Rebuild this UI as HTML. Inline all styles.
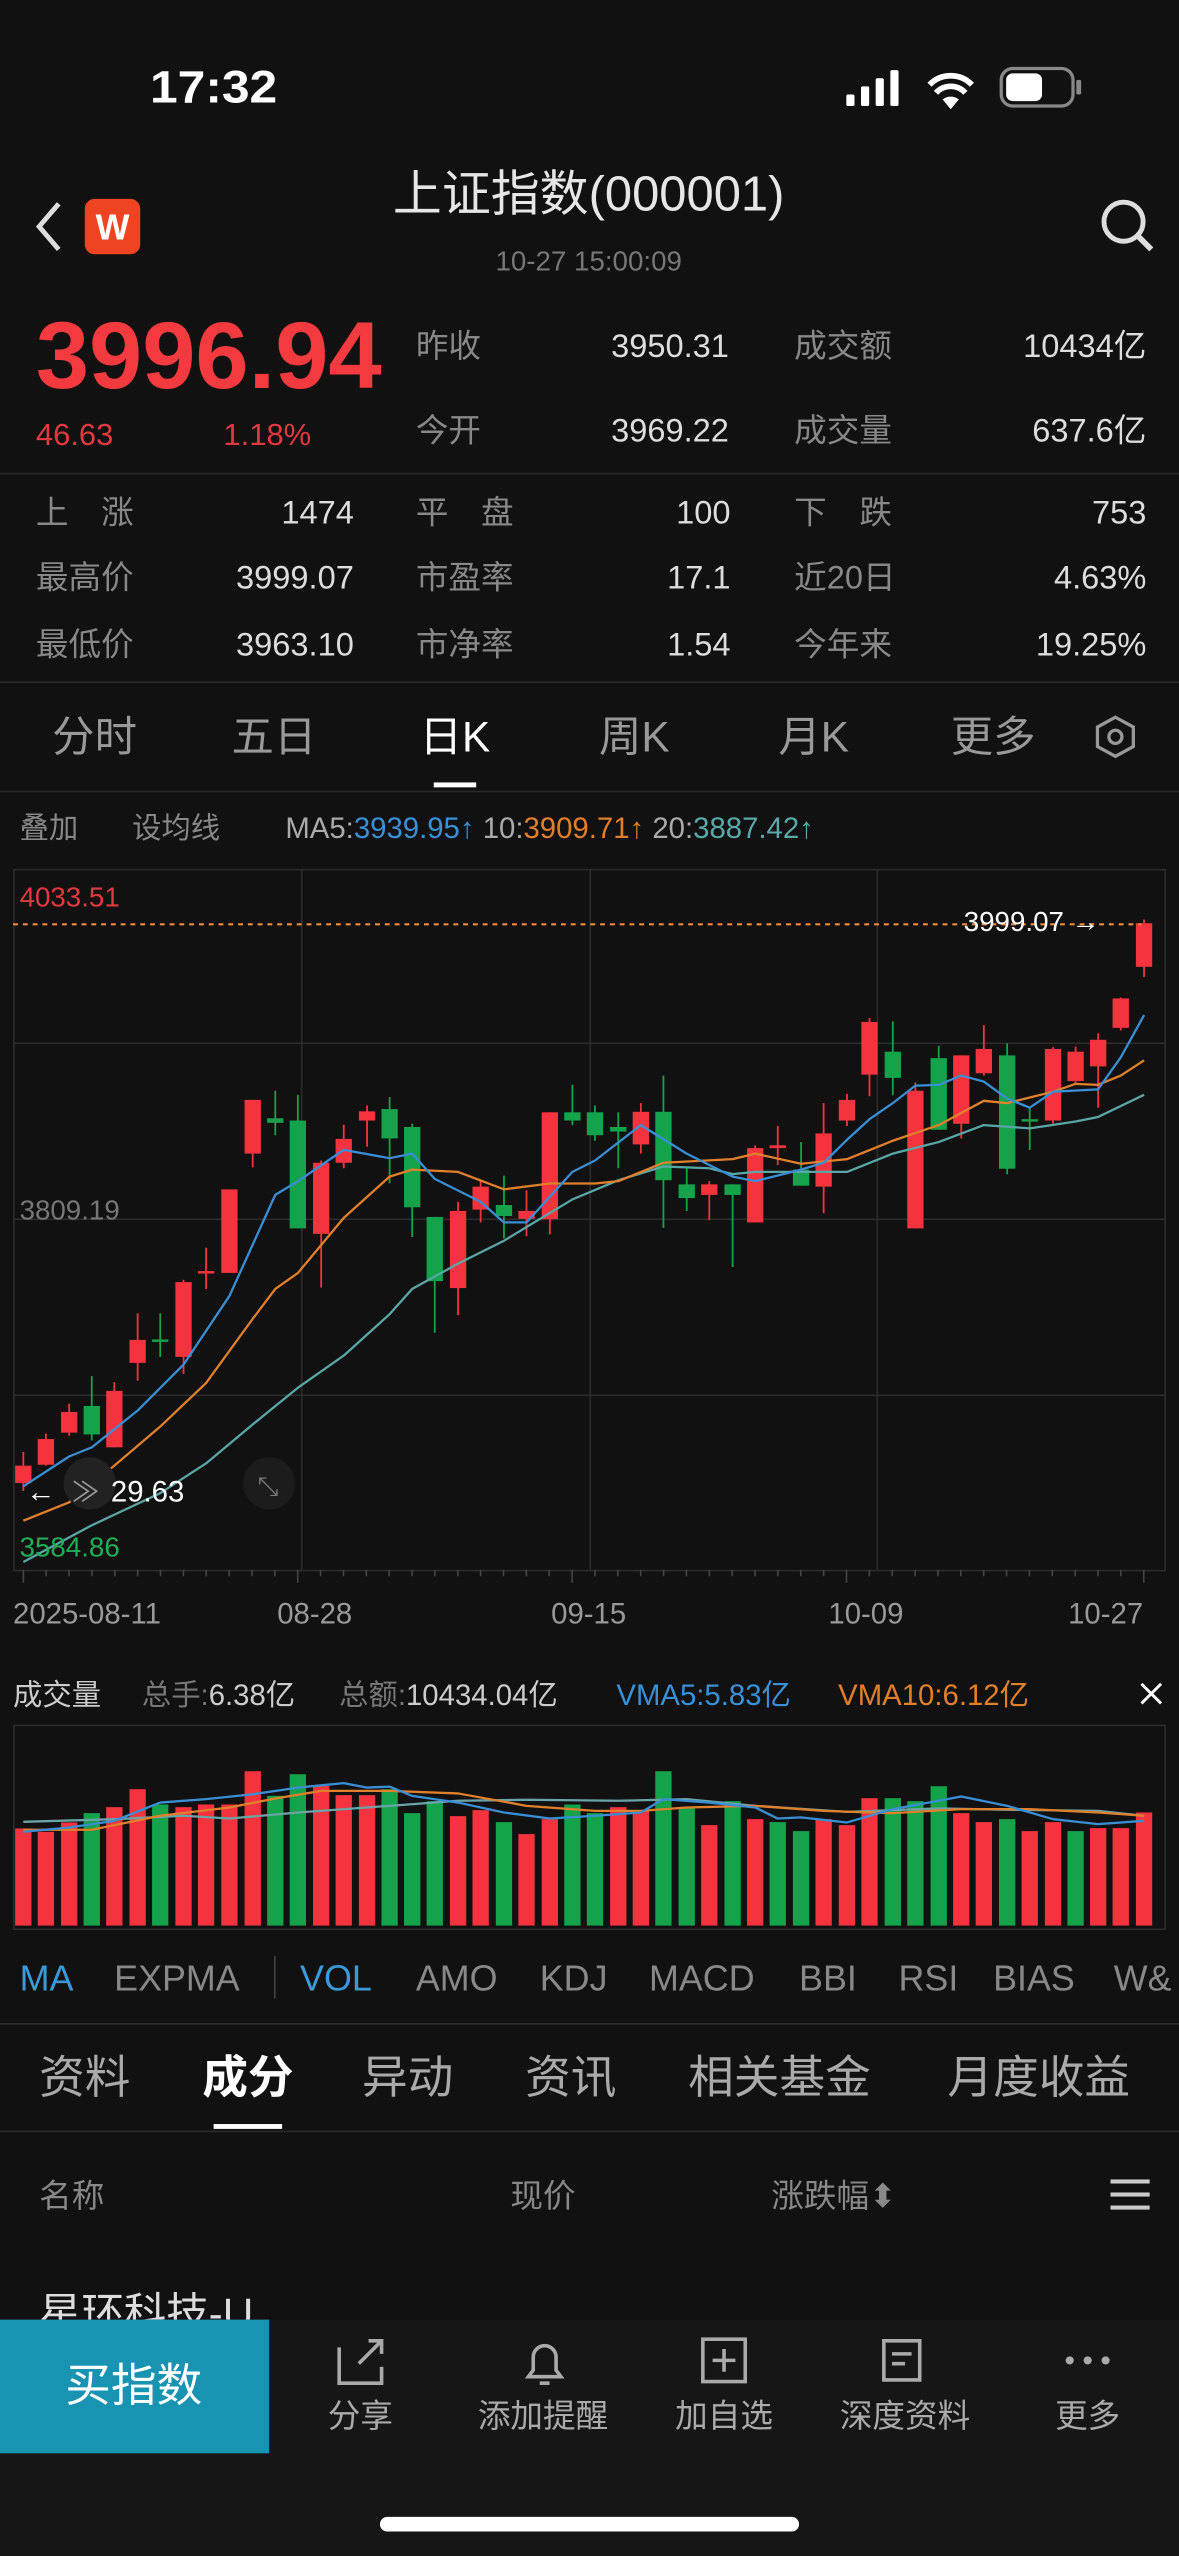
<!DOCTYPE html>
<html><head><meta charset="utf-8">
<style>
html,body{margin:0;padding:0;background:#111111;}
svg{display:block;}
text{font-family:"Liberation Sans","Noto Sans CJK SC",sans-serif;}
</style></head>
<body>
<svg id="s" xmlns="http://www.w3.org/2000/svg" width="1179" height="2556" viewBox="0 0 723 1568" preserveAspectRatio="none">
<rect x="0" y="0" width="723" height="1568" fill="#111111"/>
<!-- status bar -->
<text x="92" y="63" font-size="28" fill="#fff" font-weight="bold" textLength="78" lengthAdjust="spacingAndGlyphs">17:32</text>
<g fill="#fff">
<rect x="519" y="58" width="5" height="7" rx="1"/><rect x="528" y="53" width="5" height="12" rx="1"/><rect x="537" y="48" width="5" height="17" rx="1"/><rect x="546" y="43" width="5" height="22" rx="1"/>
</g>
<path d="M570 52 a18 18 0 0 1 26 0 M574 57 a12 12 0 0 1 18 0" stroke="#fff" stroke-width="3.5" fill="none"/>
<path d="M578 61 l5 6 l5 -6 a8 8 0 0 0 -10 0z" fill="#fff"/>
<rect x="614" y="42" width="44" height="23" rx="7" fill="none" stroke="#888" stroke-width="2"/>
<rect x="617" y="45" width="22" height="17" rx="4" fill="#fff"/>
<rect x="660" y="49" width="3" height="9" rx="1" fill="#888"/>
<!-- title -->
<path d="M36 125 L24 139 L36 153" stroke="#ddd" stroke-width="3" fill="none"/>
<rect x="52" y="122" width="34" height="34" rx="6" fill="#ee4422"/>
<text x="69" y="147" font-size="22" fill="#fff" text-anchor="middle" font-weight="bold">W</text>
<text x="361" y="129" font-size="30" fill="#e6e6e6" text-anchor="middle">上证指数(000001)</text>
<text x="361" y="166" font-size="17" fill="#777" text-anchor="middle">10-27 15:00:09</text>
<circle cx="689" cy="136" r="12" stroke="#ddd" stroke-width="3" fill="none"/>
<path d="M698 145 L706 153" stroke="#ddd" stroke-width="3.5"/>
<!-- price -->
<text x="22" y="238" font-size="58" fill="#f23a3f" font-weight="bold" textLength="212" lengthAdjust="spacingAndGlyphs">3996.94</text>
<text x="22" y="273" font-size="19" fill="#e0393f">46.63</text>
<text x="137" y="273" font-size="19" fill="#e0393f">1.18%</text>
<g font-size="20">
<text x="255" y="219" fill="#888">昨收</text><text x="447" y="219" fill="#ddd" text-anchor="end">3950.31</text>
<text x="487" y="219" fill="#888">成交额</text><text x="703" y="219" fill="#ddd" text-anchor="end">10434亿</text>
<text x="255" y="271" fill="#888">今开</text><text x="447" y="271" fill="#ddd" text-anchor="end">3969.22</text>
<text x="487" y="271" fill="#888">成交量</text><text x="703" y="271" fill="#ddd" text-anchor="end">637.6亿</text>
</g>
<rect x="0" y="290" width="723" height="1" fill="#2a2a2a"/>
<g font-size="20">
<text x="22" y="321" fill="#888">上　涨</text><text x="217" y="321" fill="#ddd" text-anchor="end">1474</text>
<text x="255" y="321" fill="#888">平　盘</text><text x="448" y="321" fill="#ddd" text-anchor="end">100</text>
<text x="487" y="321" fill="#888">下　跌</text><text x="703" y="321" fill="#ddd" text-anchor="end">753</text>
<text x="22" y="361" fill="#888">最高价</text><text x="217" y="361" fill="#ddd" text-anchor="end">3999.07</text>
<text x="255" y="361" fill="#888">市盈率</text><text x="448" y="361" fill="#ddd" text-anchor="end">17.1</text>
<text x="487" y="361" fill="#888">近20日</text><text x="703" y="361" fill="#ddd" text-anchor="end">4.63%</text>
<text x="22" y="402" fill="#888">最低价</text><text x="217" y="402" fill="#ddd" text-anchor="end">3963.10</text>
<text x="255" y="402" fill="#888">市净率</text><text x="448" y="402" fill="#ddd" text-anchor="end">1.54</text>
<text x="487" y="402" fill="#888">今年来</text><text x="703" y="402" fill="#ddd" text-anchor="end">19.25%</text>
</g>
<rect x="0" y="418" width="723" height="1" fill="#2a2a2a"/>
<!-- period tabs -->
<g font-size="26" text-anchor="middle" fill="#999">
<text x="58" y="461">分时</text><text x="168" y="461">五日</text>
<text x="279" y="461" fill="#fff">日K</text>
<text x="389" y="461">周K</text><text x="499" y="461">月K</text><text x="609" y="461">更多</text>
</g>
<rect x="266" y="480" width="26" height="3" fill="#fff"/>
<polygon points="684,440 695,446 695,458 684,464 673,458 673,446" fill="none" stroke="#999" stroke-width="2"/>
<circle cx="684" cy="452" r="4" fill="none" stroke="#999" stroke-width="2"/>
<rect x="0" y="485" width="723" height="1" fill="#2a2a2a"/>
<g font-size="18">
<text x="12" y="514" fill="#888">叠加</text><text x="81" y="514" fill="#888">设均线</text>
<text x="175" y="514" fill="#aaa">MA5:<tspan fill="#3a90d6">3939.95↑</tspan> <tspan fill="#aaa">10:</tspan><tspan fill="#e0802c">3909.71↑</tspan> <tspan fill="#aaa">20:</tspan><tspan fill="#5aa8a8">3887.42↑</tspan></text>
</g>
<!-- chart frame -->
<rect x="8.5" y="533.5" width="706" height="430" fill="none" stroke="#2c2c2c" stroke-width="1"/>
<g stroke="#2c2c2c" stroke-width="1">
<line x1="185" y1="533" x2="185" y2="963"/><line x1="362" y1="533" x2="362" y2="963"/><line x1="538" y1="533" x2="538" y2="963"/>
<line x1="8" y1="640" x2="715" y2="640"/><line x1="8" y1="748" x2="715" y2="748"/><line x1="8" y1="856" x2="715" y2="856"/>
</g>
<g id="chart"></g>
<line x1="8" y1="567" x2="700" y2="567" stroke="#f08a3c" stroke-width="1.3" stroke-dasharray="3,3"/>
<text x="12" y="556" font-size="17" fill="#e0393f">4033.51</text>
<text x="12" y="748" font-size="17" fill="#777">3809.19</text>
<text x="12" y="955" font-size="17" fill="#1fae55">3584.86</text>
<text x="591" y="571" font-size="17" fill="#fff">3999.07 →</text>
<circle cx="55" cy="910" r="16" fill="#222"/>
<circle cx="165" cy="910" r="16" fill="#1c1c1c"/>
<text x="158" y="917" font-size="16" fill="#777">⤡</text>
<text x="16" y="921" font-size="18" fill="#fff">←</text>
<text x="44" y="921" font-size="17" fill="#999">≫</text>
<text x="68" y="921" font-size="18" fill="#fff">29.63</text>
<!-- x axis -->
<g id="ticks" stroke="#444" stroke-width="1"></g>
<g font-size="18" fill="#999">
<text x="8" y="996">2025-08-11</text><text x="170" y="996">08-28</text><text x="338" y="996">09-15</text><text x="508" y="996">10-09</text><text x="655" y="996">10-27</text>
</g>
<!-- volume header -->
<g font-size="18">
<text x="8" y="1046" fill="#ccc">成交量</text>
<text x="87" y="1046" fill="#777">总手:<tspan fill="#ccc">6.38亿</tspan></text>
<text x="208" y="1046" fill="#777">总额:<tspan fill="#ccc">10434.04亿</tspan></text>
<text x="378" y="1046" fill="#3a90d6">VMA5:5.83亿</text>
<text x="514" y="1046" fill="#e0802c">VMA10:6.12亿</text>
</g>
<path d="M700 1033 L712 1045 M712 1033 L700 1045" stroke="#fff" stroke-width="1.8"/>
<rect x="8.5" y="1058.5" width="706" height="125" fill="none" stroke="#2c2c2c" stroke-width="1"/>
<g id="vol"></g>
<!-- indicator row -->
<g font-size="22" fill="#888">
<text x="12" y="1221" fill="#3a9ad8">MA</text><text x="70" y="1221">EXPMA</text>
<rect x="168" y="1200" width="1" height="26" fill="#444"/>
<text x="184" y="1221" fill="#3a9ad8">VOL</text><text x="255" y="1221">AMO</text><text x="331" y="1221">KDJ</text><text x="398" y="1221">MACD</text><text x="490" y="1221">BBI</text><text x="551" y="1221">RSI</text><text x="609" y="1221">BIAS</text><text x="683" y="1221">W&amp;</text>
</g>
<rect x="0" y="1241" width="723" height="1" fill="#2a2a2a"/>
<g font-size="28" fill="#aaa">
<text x="24" y="1284">资料</text>
<text x="124" y="1284" fill="#fff" font-weight="bold">成分</text>
<text x="222" y="1284">异动</text><text x="322" y="1284">资讯</text><text x="422" y="1284">相关基金</text><text x="581" y="1284">月度收益</text>
</g>
<rect x="131" y="1303" width="42" height="3" fill="#fff"/>
<rect x="0" y="1307" width="723" height="1" fill="#2a2a2a"/>
<g font-size="20" fill="#888">
<text x="24" y="1354">名称</text><text x="313" y="1354">现价</text><text x="473" y="1354">涨跌幅⬍</text>
</g>
<g fill="#ccc"><rect x="681" y="1337" width="24" height="2.5"/><rect x="681" y="1345" width="24" height="2.5"/><rect x="681" y="1353" width="24" height="2.5"/></g>
<text x="24" y="1428" font-size="26" fill="#ddd">星环科技-U</text>
<!-- bottom bar -->
<rect x="0" y="1423" width="723" height="145" fill="#161616"/>
<rect x="0" y="1423" width="165" height="82" fill="#1993b2"/>
<text x="82" y="1473" font-size="28" fill="#fff" text-anchor="middle">买指数</text>
<g stroke="#aaa" stroke-width="2.2" fill="none">
<path d="M208 1440 v22 h26 v-10 M220 1450 l14 -14 M226 1436 h8 v8"/>
<path d="M324 1458 h20 l-3 -4 v-8 a7 7 0 0 0 -14 0 v8 z M331 1462 h6"/>
<rect x="431" y="1435" width="26" height="26"/><path d="M444 1441 v14 M437 1448 h14"/>
<path d="M542 1436 h22 v24 h-22 z M547 1444 h12 M547 1450 h8"/>
</g>
<g fill="#aaa"><circle cx="656" cy="1448" r="2.5"/><circle cx="667" cy="1448" r="2.5"/><circle cx="678" cy="1448" r="2.5"/></g>
<g font-size="20" fill="#aaa" text-anchor="middle">
<text x="221" y="1489">分享</text><text x="333" y="1489">添加提醒</text><text x="444" y="1489">加自选</text><text x="555" y="1489">深度资料</text><text x="667" y="1489">更多</text>
</g>
<rect x="233" y="1544" width="257" height="9" rx="4.5" fill="#fff"/>
</svg>
<script>
var NS="http://www.w3.org/2000/svg";
function el(p,t,a){var e=document.createElementNS(NS,t);for(var k in a)e.setAttribute(k,a[k]);p.appendChild(e);return e;}
var R="#f5333f",G="#14a24a";
var X=function(z){return z/2.168;}, Y=function(z){return 527.5+z/3.552;};
var C=[[31,'R',1320,1358,1290,1375],[61,'R',1262,1318,1250,1320],[92,'R',1203,1248,1185,1255],[122,'G',1190,1252,1125,1265],[152,'R',1157,1280,1138,1280],[183,'R',1046,1096,988,1135],[213,'G',1045,1050,988,1083],[244,'R',920,1083,915,1120],[274,'R',896,900,845,935],[305,'R',718,900,718,900],[336,'R',523,640,523,670],[366,'G',563,573,503,600],[396,'G',568,803,512,803],[427,'R',660,815,655,932],[457,'R',608,660,577,672],[488,'R',548,568,535,625],[518,'G',543,607,517,705],[548,'G',582,757,575,822],[578,'G',778,918,778,1030],[609,'R',765,933,745,992],[639,'R',712,762,700,790],[670,'G',752,776,688,825],[700,'R',765,782,720,820],[731,'R',550,783,550,816],[761,'G',550,568,490,578],[791,'G',550,600,535,612],[822,'G',582,592,550,672],[852,'R',549,620,530,640],[882,'G',549,698,470,802],[913,'G',707,737,670,765],[943,'R',707,730,700,785],[974,'G',707,730,707,887],[1004,'R',628,790,622,790],[1034,'R',622,628,580,665],[1065,'G',675,710,615,710],[1095,'R',596,712,530,770],[1126,'R',523,568,510,580],[1156,'R',353,468,345,515],[1187,'G',418,475,352,513],[1217,'R',503,803,485,803],[1248,'G',432,588,405,588],[1278,'R',426,575,426,607],[1308,'R',412,465,360,470],[1339,'G',426,673,400,685],[1369,'G',565,569,540,632],[1400,'R',412,568,408,575],[1430,'R',418,482,407,490],[1460,'R',392,450,378,540],[1490,'R',302,366,300,372],[1521,'R',138,233,130,255]];
var ch=document.getElementById('chart');
C.forEach(function(c){var col=c[1]=='R'?R:G;var x=X(c[0]);
el(ch,'line',{x1:x,x2:x,y1:Y(c[4]),y2:Y(c[5]),stroke:col,'stroke-width':1.1});
var h=Y(c[3])-Y(c[2]);if(h<1.5)h=1.5;
el(ch,'rect',{x:x-5,y:Y(c[2]),width:10,height:h,fill:col});});
function pl(pts,col,Yf,p){var s=pts.map(function(q){return X(q[0]).toFixed(1)+','+Yf(q[1]).toFixed(1);}).join(' ');el(p,'polyline',{points:s,fill:'none',stroke:col,'stroke-width':1.4,'stroke-linejoin':'round'});}
pl([[31,1530],[122,1450],[213,1380],[274,1315],[336,1230],[396,1150],[457,1080],[518,990],[548,935],[609,880],[670,830],[700,800],[761,740],[822,698],[882,668],[943,672],[974,685],[1004,680],[1065,680],[1126,680],[1187,640],[1248,615],[1308,578],[1369,585],[1430,570],[1460,560],[1521,512]],'#5aa6a6',Y,ch);
pl([[31,1440],[92,1400],[152,1320],[213,1235],[274,1140],[336,1000],[366,935],[396,900],[457,780],[518,690],[548,675],[609,680],[670,718],[731,705],[791,705],[822,700],[882,660],[974,652],[1004,640],[1065,662],[1126,652],[1187,612],[1248,578],[1308,525],[1339,530],[1400,505],[1430,488],[1460,490],[1490,470],[1521,437]],'#e0802c',Y,ch);
pl([[31,1365],[92,1300],[122,1280],[183,1200],[244,1100],[305,950],[366,730],[396,700],[457,632],[518,650],[548,640],[578,695],[639,745],[670,790],[700,790],[761,680],[791,655],[852,578],[913,640],[974,690],[1004,700],[1065,675],[1095,660],[1126,610],[1156,565],[1187,530],[1217,492],[1248,490],[1278,470],[1308,483],[1339,520],[1369,540],[1400,505],[1460,500],[1490,430],[1521,338]],'#3a8ed4',Y,ch);
var tk=document.getElementById('ticks');
for(var i=0;i<50;i++){var x=X(31+i*30.4);var big=(i==0||i==12||i==24||i==36||i==49);el(tk,'line',{x1:x,x2:x,y1:963,y2:big?971:967});}
var V=[[31,'R',508],[61,'R',518],[92,'R',490],[122,'G',462],[152,'R',444],[183,'R',390],[213,'G',436],[244,'R',444],[274,'R',436],[305,'R',436],[336,'R',336],[366,'G',410],[396,'G',345],[427,'R',380],[457,'R',408],[488,'R',408],[518,'G',390],[548,'G',462],[578,'G',426],[609,'R',471],[639,'R',453],[670,'G',489],[700,'R',525],[731,'R',480],[761,'G',436],[791,'G',462],[822,'R',444],[852,'R',453],[882,'G',336],[913,'G',444],[943,'R',498],[974,'G',426],[1004,'R',480],[1034,'G',489],[1065,'G',516],[1095,'R',480],[1126,'R',498],[1156,'R',417],[1187,'G',417],[1217,'G',426],[1248,'G',381],[1278,'R',462],[1308,'R',489],[1339,'G',480],[1369,'R',516],[1400,'R',489],[1430,'G',516],[1460,'R',507],[1490,'R',507],[1521,'R',460]];
var vg=document.getElementById('vol');var VY=function(z){return 1018+z/4.9;};
V.forEach(function(v){var x=X(v[0]);el(vg,'rect',{x:x-5,y:VY(v[2]),width:10,height:VY(800)-VY(v[2]),fill:v[1]=='R'?R:G});});
pl([[31,488],[152,480],[244,470],[305,478],[396,460],[518,440],[609,425],[700,422],[822,425],[913,420],[1004,440],[1126,458],[1248,448],[1339,452],[1460,455],[1521,470]],'#6aa4a8',VY,vg);
pl([[31,512],[122,512],[213,470],[305,445],[366,418],[427,395],[518,395],[609,403],[700,440],[791,455],[852,455],[913,445],[1004,440],[1095,455],[1187,462],[1278,450],[1369,450],[1460,460],[1521,470]],'#e0802c',VY,vg);
pl([[31,518],[92,505],[152,485],[213,430],[274,420],[336,405],[396,385],[457,372],[488,385],[518,382],[548,410],[609,430],[670,460],[731,478],[791,470],[852,460],[882,420],[943,430],[1004,445],[1034,478],[1065,475],[1126,490],[1187,450],[1248,425],[1278,412],[1339,440],[1400,480],[1460,495],[1521,485]],'#3a8ed4',VY,vg);
</script>
</body></html>
